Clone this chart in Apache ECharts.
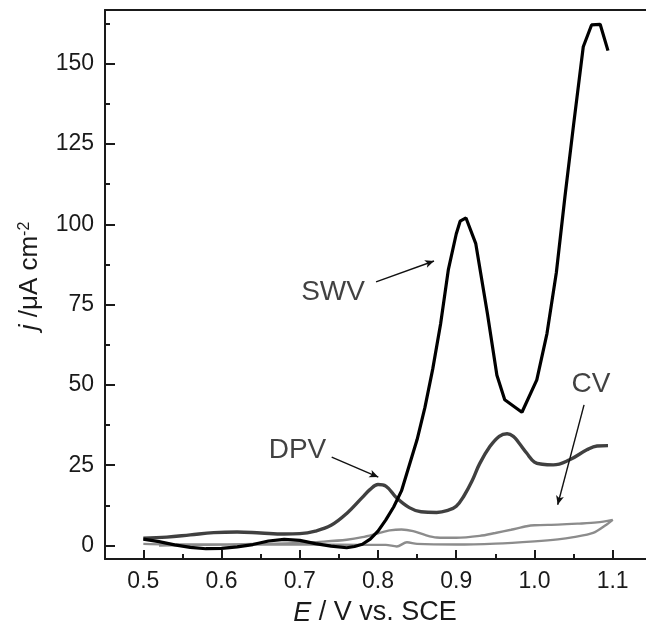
<!DOCTYPE html>
<html>
<head>
<meta charset="utf-8">
<script src="https://cdn.jsdelivr.net/npm/echarts@6/dist/echarts.min.js"></script>
<style>
  html, body { margin: 0; padding: 0; background: #fff; }
  #chart { width: 646px; height: 633px; }
</style>
</head>
<body>
<div id="chart"></div>
<script>
  // tick positions
  var xMajor = [0.5, 0.6, 0.7, 0.8, 0.9, 1.0, 1.1];
  var xMinor = [0.55, 0.65, 0.75, 0.85, 0.95, 1.05];
  var yMajor = [0, 25, 50, 75, 100, 125, 150];
  var yMinor = [12.5, 37.5, 62.5, 87.5, 112.5, 137.5, 162.5];

  // square wave voltammetry
  var swvE = [0.50, 0.52, 0.54, 0.56, 0.58, 0.60, 0.62, 0.64, 0.66, 0.68, 0.70, 0.72, 0.74, 0.76, 0.77, 0.78, 0.79,
              0.80, 0.81, 0.82, 0.83, 0.84, 0.85, 0.86, 0.87, 0.88, 0.89, 0.90, 0.905, 0.9125, 0.925, 0.94, 0.952,
              0.962, 0.984, 1.003, 1.016, 1.028, 1.039, 1.05, 1.0624, 1.073, 1.084, 1.094];
  var swvJ = [2.0, 1.2, 0.2, -0.6, -1.0, -0.9, -0.4, 0.3, 1.4, 1.9, 1.6, 0.6, -0.2, -0.7, -0.3, 0.4, 2.0,
              4.5, 8.0, 12, 17, 25, 33, 43, 55, 69, 86, 97, 101, 102, 94, 72, 53,
              45.4, 41.5, 51.6, 66, 85, 108.7, 131, 155.3, 162.1, 162.3, 154.1];

  // differential pulse voltammetry
  var dpvE = [0.50, 0.53, 0.56, 0.59, 0.62, 0.65, 0.68, 0.70, 0.72, 0.74, 0.76, 0.78, 0.79, 0.80, 0.81, 0.824,
              0.84, 0.855, 0.875, 0.89, 0.90, 0.91, 0.92, 0.93, 0.943, 0.955, 0.965, 0.973, 0.98, 0.99, 1.0,
              1.01, 1.024, 1.045, 1.067, 1.08, 1.094];
  var dpvJ = [2.3, 2.6, 3.3, 4.0, 4.2, 3.9, 3.6, 3.7, 4.5, 6.3, 10.0, 15.0, 17.5, 19.0, 18.5, 14.8,
              11.8, 10.5, 10.3, 11.0, 12.2, 15.5, 20, 25.5, 30.8, 34, 34.8, 34.0, 32, 28.8, 26,
              25.3, 25.1, 26.7, 29.8, 31, 31.1];

  // cyclic voltammetry (forward then reverse)
  var cvE = [0.50, 0.55, 0.60, 0.65, 0.70, 0.73, 0.76, 0.78, 0.80, 0.815, 0.83, 0.845, 0.86, 0.875, 0.90, 0.93,
             0.95, 0.97, 0.99, 1.0, 1.03, 1.055, 1.08, 1.10,
             1.092, 1.075, 1.05, 1.03, 1.0, 0.95, 0.90, 0.85, 0.837, 0.824, 0.81, 0.78, 0.72, 0.65, 0.58, 0.52];
  var cvJ = [0.5, 0.3, 0.3, 0.5, 0.8, 1.2, 1.8, 2.6, 3.8, 4.7, 5.0, 4.5, 3.3, 2.5, 2.4, 3.0,
             3.9, 4.9, 6.0, 6.3, 6.5, 6.8, 7.2, 8.0,
             6.5, 3.9, 2.6, 1.9, 1.3, 0.6, 0.3, 0.5, 1.0, -0.3, 0.2, 0.2, 0.3, 0.3, 0.2, 0.0];

  // annotation labels and arrows
  var noteNames = ['SWV', 'DPV', 'CV'];
  var notePos = [[0.7425, 79.0], [0.6971, 29.6], [1.0723, 50.2]];
  var arrowFrom = [[0.7975, 82.1], [0.7408, 27.5], [1.0634, 43.8]];
  var arrowTo = [[0.8716, 88.6], [0.8004, 21.3], [1.0297, 12.7]];

  var X_MIN = 0.451, X_MAX = 1.1426;
  var Y_MIN = -4.2, Y_MAX = 166.76;
  var FONT = '"Liberation Sans", Arial, sans-serif';
  var INK = '#1a1a1a';

  function pairs(xs, ys) {
    return xs.map(function (x, i) { return [x, ys[i]]; });
  }

  var chart = echarts.init(document.getElementById('chart'));

  var option = {
    animation: false,
    grid: { left: 105, right: 0, top: 10, bottom: 74 },
    xAxis: [
      {
        type: 'value', position: 'bottom', min: X_MIN, max: X_MAX,
        splitLine: { show: false },
        axisLine: { onZero: false, lineStyle: { color: INK, width: 2 } },
        axisTick: { inside: true, length: 9, customValues: xMajor, lineStyle: { color: INK, width: 2 } },
        axisLabel: {
          customValues: xMajor, margin: 11, color: INK, fontSize: 23, fontFamily: FONT,
          formatter: function (v) { return v.toFixed(1); }
        }
      },
      {
        // top frame line
        type: 'value', position: 'top', min: X_MIN, max: X_MAX,
        splitLine: { show: false }, axisTick: { show: false }, axisLabel: { show: false },
        axisLine: { show: true, onZero: false, lineStyle: { color: INK, width: 2 } }
      },
      {
        // minor ticks
        type: 'value', position: 'bottom', min: X_MIN, max: X_MAX,
        splitLine: { show: false }, axisLabel: { show: false },
        axisLine: { show: false, onZero: false },
        axisTick: { inside: true, length: 5, customValues: xMinor, lineStyle: { color: INK, width: 2 } }
      }
    ],
    yAxis: [
      {
        type: 'value', position: 'left', min: Y_MIN, max: Y_MAX,
        splitLine: { show: false },
        axisLine: { show: true, onZero: false, lineStyle: { color: INK, width: 2 } },
        axisTick: { show: true, inside: true, length: 10, customValues: yMajor, lineStyle: { color: INK, width: 2 } },
        axisLabel: { customValues: yMajor, margin: 11, color: INK, fontSize: 23, fontFamily: FONT }
      },
      {
        type: 'value', position: 'left', min: Y_MIN, max: Y_MAX,
        splitLine: { show: false }, axisLabel: { show: false },
        axisLine: { show: false, onZero: false },
        axisTick: { show: true, inside: true, length: 5, customValues: yMinor, lineStyle: { color: INK, width: 2 } }
      }
    ],
    graphic: [
      {
        type: 'text', x: 375, y: 613,
        style: {
          text: '{i|E} / V vs. SCE', fill: INK, fontSize: 27, fontFamily: FONT,
          align: 'center', verticalAlign: 'middle',
          rich: { i: { fontStyle: 'italic', fontSize: 27, fontFamily: FONT, fill: INK } }
        }
      },
      {
        type: 'text', x: 29.5, y: 276, rotation: Math.PI / 2,
        style: {
          text: '{i|j} /\u03bcA cm{sup|-2}', fill: INK, fontSize: 26, fontFamily: FONT,
          align: 'center', verticalAlign: 'middle',
          rich: {
            i: { fontStyle: 'italic', fontSize: 26, fontFamily: FONT, fill: INK },
            sup: { fontSize: 16, fontFamily: FONT, fill: INK, verticalAlign: 'top', lineHeight: 26 }
          }
        }
      }
    ],
    series: [
      {
        name: 'CV', type: 'line', data: pairs(cvE, cvJ), showSymbol: false, smooth: 0.3,
        lineStyle: { color: '#8c8c8c', width: 2.4 }
      },
      {
        name: 'DPV', type: 'line', data: pairs(dpvE, dpvJ), showSymbol: false, smooth: 0.4,
        lineStyle: { color: '#404040', width: 3.4 }
      },
      {
        name: 'SWV', type: 'line', data: pairs(swvE, swvJ), showSymbol: false,
        lineStyle: { color: '#000', width: 3.2 }
      },
      {
        name: 'notes', type: 'scatter', symbolSize: 0, silent: true,
        data: notePos.map(function (p, i) { return [p[0], p[1], noteNames[i]]; }),
        label: {
          show: true, position: 'inside', color: '#111', fontSize: 28, fontFamily: FONT,
          formatter: function (p) { return p.value[2]; }
        },
        markLine: {
          silent: true, symbol: ['none', 'arrow'], symbolSize: [6, 9],
          label: { show: false },
          lineStyle: { color: '#111', width: 1.4, type: 'solid' },
          data: arrowFrom.map(function (a, i) {
            return [{ coord: a }, { coord: arrowTo[i] }];
          })
        }
      }
    ]
  };

  chart.setOption(option);
</script>
</body>
</html>
